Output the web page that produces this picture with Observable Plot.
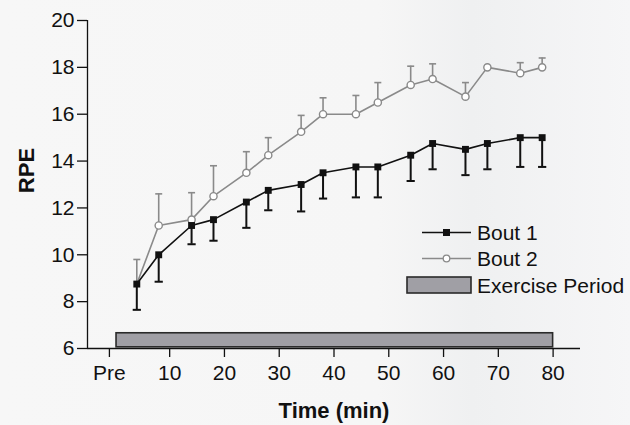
<!DOCTYPE html>
<html>
<head>
<meta charset="utf-8">
<script src="https://cdn.jsdelivr.net/npm/d3@7"></script>
<script src="https://cdn.jsdelivr.net/npm/@observablehq/plot@0.6"></script>
<style>
  html, body { margin: 0; padding: 0; background: #f5f5f6; }
  #wrap { position: relative; width: 630px; height: 425px; overflow: hidden;
    background: linear-gradient(90deg, #f7f7f7 0%, #f6f6f6 60%, #eff0f1 75%, #f6f6f7 100%); }
  #legend { position: absolute; left: 0; top: 0; }
</style>
</head>
<body>
<div id="wrap"></div>
<script>
// ---- data ----
const times = [4, 8, 14, 18, 24, 28, 34, 38, 44, 48, 54, 58, 64, 68, 74, 78];
const bout1 = [8.75, 10, 11.25, 11.5, 12.25, 12.75, 13, 13.5, 13.75, 13.75, 14.25, 14.75, 14.5, 14.75, 15, 15];
const bout1Err = [1.1, 1.15, 0.8, 0.9, 1.1, 0.85, 1.15, 1.1, 1.3, 1.3, 1.1, 1.1, 1.1, 1.1, 1.25, 1.25];
const bout2 = [8.75, 11.25, 11.5, 12.5, 13.5, 14.25, 15.25, 16, 16, 16.5, 17.25, 17.5, 16.75, 18, 17.75, 18];
const bout2Err = [1.05, 1.35, 1.15, 1.3, 0.9, 0.75, 0.7, 0.7, 0.8, 0.85, 0.8, 0.65, 0.6, 0, 0.45, 0.4];
const exercisePeriod = [{start: 0.3, end: 80, low: 6.05, high: 6.65}];
const xTickValues = [-1, 10, 20, 30, 40, 50, 60, 70, 80];
const xTickLabels = ["Pre", "10", "20", "30", "40", "50", "60", "70", "80"];
const yTickValues = [6, 8, 10, 12, 14, 16, 18, 20];
const seriesNames = ["Bout 1", "Bout 2", "Exercise Period"];

const d1 = times.map((t, i) => ({t, v: bout1[i], lo: bout1[i] - bout1Err[i], e: bout1Err[i]}));
const d2 = times.map((t, i) => ({t, v: bout2[i], hi: bout2[i] + bout2Err[i], e: bout2Err[i]}));
const capHalf = 0.75;

const font = "'Liberation Sans', Arial, sans-serif";
const black = "#111";
const gray = "#8a8a8a";

const chart = Plot.plot({
  width: 630, height: 425,
  marginLeft: 87, marginRight: 50, marginTop: 20, marginBottom: 77,
  style: {fontFamily: font, fontSize: "21px", background: "transparent", color: "#111", overflow: "visible"},
  x: {domain: [-5, 85]},
  y: {domain: [6, 20]},
  marks: [
    Plot.rect(exercisePeriod, {x1: "start", x2: "end", y1: "low", y2: "high", fill: "#a09fa5", stroke: "#2a2a2a", strokeWidth: 1.6}),
    Plot.ruleY([6], {stroke: "#111", strokeWidth: 1.3}),
    Plot.ruleX([-5], {stroke: "#111", strokeWidth: 1.3}),
    Plot.axisY({ticks: yTickValues, tickSize: 10, tickPadding: 3, label: null, fontSize: 21, strokeWidth: 1.3}),
    Plot.axisX({ticks: xTickValues, tickFormat: d => xTickLabels[xTickValues.indexOf(d)], tickSize: 9, tickPadding: 8, label: null, fontSize: 21, strokeWidth: 1.3}),
    // Bout 2 error bars (upward)
    Plot.ruleX(d2.filter(d => d.e > 0), {x: "t", y1: "v", y2: "hi", stroke: gray, strokeWidth: 1.6}),
    Plot.link(d2.filter(d => d.e > 0), {x1: d => d.t - capHalf * 0.85, x2: d => d.t + capHalf * 0.85, y1: "hi", y2: "hi", stroke: gray, strokeWidth: 1.6}),
    Plot.line(d2, {x: "t", y: "v", stroke: gray, strokeWidth: 1.6}),
    Plot.dot(d2.slice(1), {x: "t", y: "v", r: 3.6, fill: "white", stroke: gray, strokeWidth: 1.4}),
    // Bout 1 error bars (downward)
    Plot.ruleX(d1, {x: "t", y1: "v", y2: "lo", stroke: black, strokeWidth: 2}),
    Plot.link(d1, {x1: d => d.t - capHalf, x2: d => d.t + capHalf, y1: "lo", y2: "lo", stroke: black, strokeWidth: 2}),
    Plot.line(d1, {x: "t", y: "v", stroke: black, strokeWidth: 1.6}),
    Plot.dot(d1, {x: "t", y: "v", symbol: "square", r: 3.9, fill: black, stroke: "none"}),
    // axis titles
    Plot.text(["RPE"], {frameAnchor: "left", textAnchor: "middle", lineAnchor: "middle", dx: -61, dy: -14, rotate: -90, fontWeight: "bold", fontSize: 22, fill: "#111"}),
    Plot.text(["Time (min)"], {frameAnchor: "bottom", textAnchor: "middle", lineAnchor: "middle", dy: 62, fontWeight: "bold", fontSize: 22, fill: "#111"})
  ]
});

const wrap = document.getElementById("wrap");
wrap.appendChild(chart);

// ---- legend overlay ----
const leg = d3.select(wrap).append("svg").attr("id", "legend").attr("width", 630).attr("height", 425)
  .style("font-family", font).style("font-size", "21px");
const g1 = leg.append("g");
g1.append("line").attr("x1", 422).attr("x2", 471).attr("y1", 232.5).attr("y2", 232.5).attr("stroke", black).attr("stroke-width", 1.6);
g1.append("rect").attr("x", 443).attr("y", 229).attr("width", 7).attr("height", 7).attr("fill", black);
g1.append("text").attr("x", 477).attr("y", 232.5).attr("dy", "0.36em").attr("fill", "#111").text(seriesNames[0]);
const g2 = leg.append("g");
g2.append("line").attr("x1", 422).attr("x2", 471).attr("y1", 258.5).attr("y2", 258.5).attr("stroke", gray).attr("stroke-width", 1.4);
g2.append("circle").attr("cx", 446.5).attr("cy", 258.5).attr("r", 3.3).attr("fill", "white").attr("stroke", gray).attr("stroke-width", 1.3);
g2.append("text").attr("x", 477).attr("y", 258.5).attr("dy", "0.36em").attr("fill", "#111").text(seriesNames[1]);
const g3 = leg.append("g");
g3.append("rect").attr("x", 407).attr("y", 277).attr("width", 64).attr("height", 16).attr("fill", "#a09fa5").attr("stroke", "#2a2a2a").attr("stroke-width", 1.6);
g3.append("text").attr("x", 477).attr("y", 285).attr("dy", "0.36em").attr("fill", "#111").text(seriesNames[2]);
</script>
</body>
</html>
